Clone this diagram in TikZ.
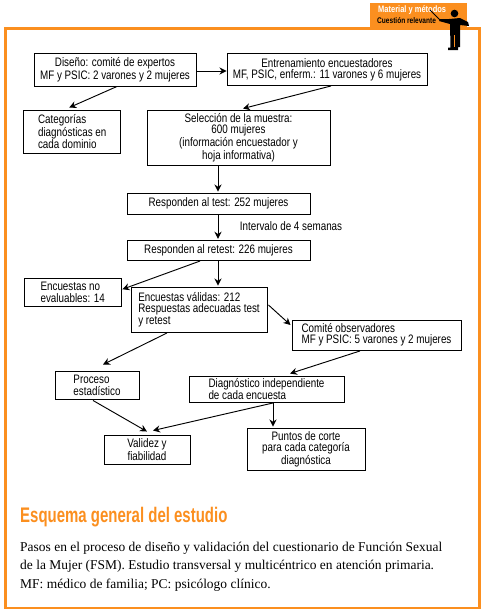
\documentclass[tikz,border=0pt]{standalone}
\usepackage{fontspec}
\setmainfont{Liberation Serif}
\setsansfont{Liberation Sans}[FakeStretch=0.8]
\newfontfamily\headfont{Liberation Sans}[FakeStretch=0.71]
\usepackage{tikz}
\usetikzlibrary{arrows.meta}
\definecolor{tabcolor}{HTML}{FB8F1F}
\begin{document}
\begin{tikzpicture}[x=0.03cm, y=-0.03cm]
            \tikzset{box/.style={draw=black, line width=0.8pt, inner sep=0pt, font=\sffamily\fontsize{10.5}{9.6}\selectfont},
                    >={Stealth[black, length=6pt, width=6pt]},
                    every edge/.style={draw=black, line width=0.8pt}}
            \useasboundingbox (0, 0) rectangle (484, 611);
            % frame and tab
            \draw[tabcolor, line width=2.5pt] (5.5, 28.5) rectangle (479.5, 608);
            \fill[tabcolor] (370, 3) rectangle (467, 28);
            \node[anchor=west, inner sep=0pt, text=white, font=\sffamily\bfseries\fontsize{8}{8}\selectfont] (tabtop) at (378, 10) {Material y métodos};
            \node[anchor=west, inner sep=0pt, text=black, font=\sffamily\bfseries\fontsize{7}{7}\selectfont] (tabsub) at (377, 21) {Cuestión relevante};
            % person
            \fill[black] (454.5, 13.5) circle (3.8);
            \fill[black] (449, 19) -- (460, 18) -- (468, 22) -- (469, 26) -- (460, 25) -- (460, 47) -- (458, 47) -- (458, 50) -- (448, 50) -- (448, 47.5) -- (450.5, 47.5) -- (450, 24) -- (439, 21) -- (440, 19) -- cycle;
            \draw[black, line width=0.8pt] (440, 20) -- (430, 10);
            \fill[tabcolor] (454, 35) rectangle (455, 47);
            % boxes
            \node[box, minimum width=4.86cm, minimum height=0.99cm, align=center] (dis) at (115, 69.5) {Diseño: comité de expertos\\MF y PSIC: 2 varones y 2 mujeres};
            \node[box, minimum width=6cm, minimum height=0.96cm, align=center] (ent) at (327, 69.5) {Entrenamiento encuestadores\\MF, PSIC, enferm.: 11 varones y 6 mujeres};
            \node[box, minimum width=2.9cm, minimum height=1.29cm, align=left] (cat) at (72.25, 131.5) {Categorías\\diagnósticas en\\cada dominio};
            \node[box, minimum width=5.49cm, minimum height=1.665cm, align=center] (sel) at (238.5, 137.75) {Selección de la muestra:\\600 mujeres\\(información encuestador y\\hoja informativa)};
            \node[box, minimum width=5.49cm, minimum height=0.645cm] (tes) at (218.5, 203.75) {Responden al test: 252 mujeres};
            \node[inner sep=0pt, font=\sffamily\fontsize{10.5}{9.6}\selectfont] (int) at (291, 226) {Intervalo de 4 semanas};
            \node[box, minimum width=5.49cm, minimum height=0.61cm] (ret) at (218.5, 250.4) {Responden al retest: 226 mujeres};
            \node[box, minimum width=2.925cm, minimum height=0.855cm, align=left] (noe) at (72.75, 292.25) {Encuestas no\\evaluables: 14};
            \node[box, minimum width=4.08cm, minimum height=1.35cm, align=left] (val) at (199, 309.5) {Encuestas válidas: 212\\Respuestas adecuadas test\\y retest};
            \node[box, minimum width=5.07cm, minimum height=0.9cm, align=left] (com) at (376.5, 335) {Comité observadores\\MF y PSIC: 5 varones y 2 mujeres};
            \node[box, minimum width=2.52cm, minimum height=0.855cm, align=left] (pro) at (97, 385.25) {Proceso\\estadístico};
            \node[box, minimum width=4.65cm, minimum height=0.78cm, align=left] (dia) at (266.5, 389) {Diagnóstico independiente\\de cada encuesta};
            \node[box, minimum width=2.58cm, minimum height=0.87cm, align=center] (vld) at (147, 449.5) {Validez y\\fiabilidad};
            \node[box, minimum width=3.54cm, minimum height=1.26cm, align=center] (pun) at (306, 449) {Puntos de corte\\para cada categoría\\diagnóstica};
            % arrows
            \path [->] ([shift={(0, 1.5)}]dis.east) edge ([shift={(0, 1.5)}]ent.west);
            \path [->] ([shift={(2, 0)}]dis.south) edge ([shift={(-3, -2)}]cat.north);
            \path [->] ([shift={(4, 0)}]ent.south) edge ([shift={(4.5, -1)}]sel.north);
            \path [->] ([shift={(-20.5, 0)}]sel.south) edge ([shift={(-0.5, -1)}]tes.north);
            \path [->] ([shift={(-0.5, 0)}]tes.south) edge ([shift={(-0.5, -1)}]ret.north);
            \path [->] ([shift={(-18.5, 0)}]ret.south) edge ([shift={(0.5, -3)}]noe.east);
            \path [->] ([shift={(-0.5, 0)}]ret.south) edge ([shift={(19, -1)}]val.north);
            \path [->] ([shift={(1, -4.5)}]val.east) edge ([shift={(-1, -10)}]com.west);
            \path [->] ([shift={(-32, 0.5)}]val.south) edge ([shift={(6, -6)}]pro.north);
            \path [->] ([shift={(-16.5, 0.5)}]com.south) edge ([shift={(23.5, -2)}]dia.north);
            \path [->] ([shift={(-4, 0.5)}]pro.south) edge ([shift={(0, -3)}]vld.north);
            \path [->] ([shift={(6.5, 0.5)}]dia.south) edge ([shift={(6, -4)}]vld.north);
            \path [->] ([shift={(6.5, 0.5)}]dia.south) edge ([shift={(-33, -1)}]pun.north);
            % caption
            \node[anchor=west, inner sep=0pt, text=tabcolor, font=\headfont\bfseries\fontsize{18}{18}\selectfont] (title) at (20, 517.5) {Esquema general del estudio};
            \node[anchor=north west, inner sep=0pt, align=left, font=\fontsize{11.5}{15.6}\selectfont] (body) at (20, 542) {Pasos en el proceso de diseño y validación del cuestionario de Función Sexual\\de la Mujer (FSM). Estudio transversal y multicéntrico en atención primaria.\\MF: médico de familia; PC: psicólogo clínico.};
        \end{tikzpicture}
\end{document}
